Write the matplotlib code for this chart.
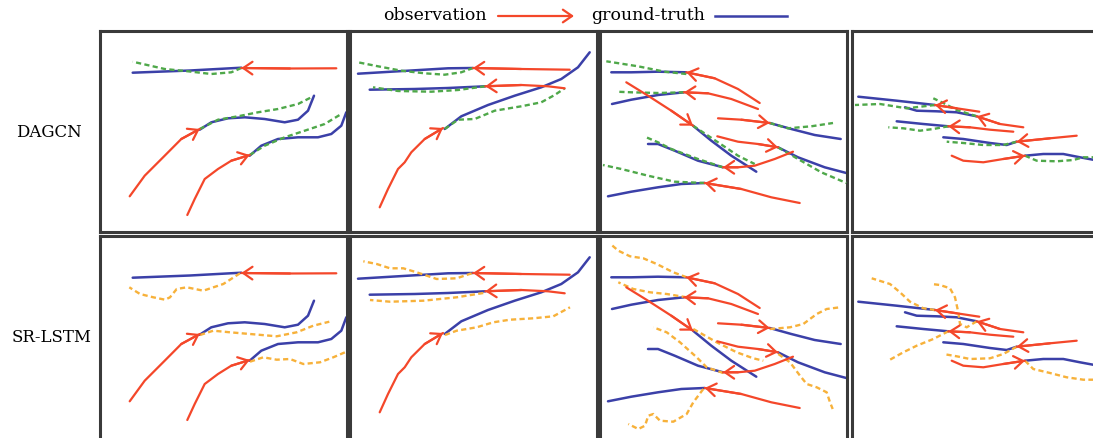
import matplotlib.pyplot as plt

# 图像尺寸 (px)
W, H = 1093, 439

# 每个子图内的轨迹坐标 (子图左上角为原点, 单位 px)
# 面板1
p1_obs = [
    [(236.3, 37.3), (190, 37.5), (141.3, 37)],
    [(29.7, 165.3), (44.7, 144.7), (64.7, 124.7), (81.3, 108), (99.7, 98)],
    [(87.3, 184), (94.7, 168), (104.7, 148), (118, 138), (131.3, 129.7), (149.7, 124)],
]
p1_gt = [
    [(141.3, 36.7), (90, 39.5), (32.7, 41.7)],
    [(99.7, 98.7), (111.3, 91.3), (128, 87.3), (144.7, 86.3), (164.7, 88), (184.7, 91.3),
     (198, 88.7), (208, 79.7), (214, 64.7)],
    [(149.7, 124.7), (161.3, 114.7), (178, 108), (198, 106.3), (218, 106.3), (231.3, 103),
     (241.3, 94.7), (246.3, 81.3)],
]
p1_dagcn = [
    [(141.3, 37), (131.3, 41.3), (111.3, 43), (88, 40.3), (64.7, 38), (32.7, 30.7)],
    [(99.7, 98), (118, 88.7), (138, 85.3), (158, 81.3), (178, 78), (198, 73), (211.3, 66.3)],
    [(149.7, 124), (164.7, 114.7), (184.7, 106.3), (204.7, 99.7), (224.7, 93), (241.3, 83)],
]
p1_srlstm = [
    [(140, 37.3), (123.3, 48), (103.3, 54.7), (86.7, 51.3), (76.7, 53), (70, 61.3), (65, 63.7),
     (53.3, 61.3), (40, 58), (29.3, 51.3)],
    [(100, 99), (113.3, 94.7), (130, 96.3), (150, 98), (176.7, 100.3), (196.7, 96.3),
     (213.3, 89.7), (229.3, 85.7)],
    [(150, 125.7), (163.3, 121.3), (176.7, 123.7), (190, 123), (203.3, 128), (220, 126.3),
     (233.3, 121.3), (245, 116.3)],
]

# 面板2
p2_obs = [
    [(219.7, 38.7), (171.3, 38), (123, 37)],
    [(214.7, 57.3), (198, 55.3), (171.3, 54), (135.3, 55.3)],
    [(29.7, 176.3), (38, 158), (48, 138), (54.7, 131.3), (61.3, 121.3), (74.7, 108), (93, 97)],
]
p2_gt = [
    [(123, 37), (98, 37.3), (64.7, 39.3), (31.3, 41.3), (8, 42.7)],
    [(135.3, 55.3), (98, 57), (64.7, 58), (19.7, 58.7)],
    [(94.7, 98), (111.3, 85.3), (138, 74), (164.7, 64.7), (191.3, 56.3), (211.3, 48),
     (228, 36.3), (239.7, 21.3)],
]
p2_dagcn = [
    [(123, 37), (111.3, 41.3), (94.7, 43.7), (74.7, 42.3), (51.3, 39.7), (28, 35.3), (8, 31.3)],
    [(135.3, 55.3), (108, 59), (81.3, 60.7), (48, 60), (23, 56.3)],
    [(94.7, 98), (108, 88.7), (124.7, 88), (144.7, 79.7), (171.3, 75.3), (191.3, 71.3),
     (204.7, 64), (214.7, 57.3)],
]
p2_srlstm = [
    [(121.7, 37.3), (106.7, 42.3), (86.7, 43), (66.7, 36.3), (53.3, 32.3), (40, 32.3),
     (26.7, 28), (13.3, 25.3)],
    [(133.3, 57), (106.7, 61.3), (73.3, 64.7), (40, 65.7), (20, 64)],
    [(95, 99), (106.7, 94.7), (126.7, 91.3), (143.3, 86.3), (160, 83.7), (183.3, 82.3),
     (203.3, 80.3), (220, 71.3)],
]

# 面板3
p3_obs = [
    [(159.7, 72), (138, 58), (114.7, 47.3), (86.3, 41.3)],
    [(158, 78), (131.3, 68), (108, 62.3), (84, 61.3)],
    [(26.3, 51.3), (48, 64.7), (71.3, 79.7), (93, 94.7)],
    [(118, 87.3), (141.3, 88.7), (169.7, 92)],
    [(117.3, 105.3), (138, 110.7), (158, 113), (178, 116.3)],
    [(193, 120.7), (174.7, 128), (154.7, 134.7), (138, 136.3), (123, 136.3)],
    [(199.7, 172), (171.3, 166.3), (141.3, 158), (104.7, 152)],
]
p3_gt = [
    [(86.3, 41.3), (58, 40.7), (31.3, 41.3), (11.3, 41.3)],
    [(84, 61.3), (58, 64), (31.3, 68.7), (12, 73)],
    [(93, 94.7), (111.3, 109.7), (131.3, 124.7), (156.3, 140.7)],
    [(169.7, 92), (191.3, 98), (214.7, 104), (240.7, 108)],
    [(178, 116.3), (198, 126.3), (224.7, 136.3), (246.3, 142)],
    [(123, 136.3), (98, 129.7), (74.7, 119.7), (58, 113), (48, 113)],
    [(104.7, 152), (81.3, 153), (58, 156.3), (31.3, 160.7), (8, 165.3)],
]
p3_dagcn = [
    [(86.3, 43), (64.7, 40.7), (38, 35.3), (6.3, 30.3)],
    [(84, 61.3), (58, 62), (31.3, 61.3), (16.3, 60.7)],
    [(93, 94.7), (118, 111.3), (138, 124.7), (154.7, 133)],
    [(169.7, 92), (188, 97.3), (211.3, 95.3), (233, 92)],
    [(178, 116.3), (198, 128), (221.3, 141.3), (246.3, 152)],
    [(123, 136.3), (98, 128), (71.3, 118), (58, 111.3), (46.3, 106.3)],
    [(104.7, 152), (74.7, 150.7), (48, 144.7), (21.3, 138), (3, 134)],
]
p3_srlstm = [
    [(86.7, 41.3), (73.3, 36.3), (56.7, 28), (43.3, 22.3), (30, 20.3), (18.3, 14.7), (11.7, 9)],
    [(86.7, 61.3), (66.7, 58), (50, 56.3), (33.3, 53), (18.3, 46.3)],
    [(93.3, 93), (116.7, 106.3), (136.7, 116.3), (153.3, 122.3), (163.3, 124.7)],
    [(170, 93), (190, 91.3), (203.3, 88), (216.7, 78), (226.7, 73), (240, 71.3)],
    [(178.3, 118), (190, 126.3), (200, 139.7), (206.7, 148), (216.7, 151.3), (226.7, 156.3),
     (230, 166.3), (232.7, 173)],
    [(123.3, 137), (106.7, 131.3), (96.7, 121.3), (80, 106.3), (66.7, 96.3), (53.3, 91.3)],
    [(103.3, 153), (93.3, 166.3), (86.7, 178), (73.3, 185.7), (60, 184.7), (53.3, 178),
     (48.3, 179.7), (45, 189.7), (38.3, 193), (28.3, 188)],
]

# 面板4
p4_obs = [
    [(127.3, 80.7), (104.7, 77.3), (83, 74)],
    [(171.3, 96.3), (148, 93), (124.7, 85.3)],
    [(161.3, 100.7), (138, 98.7), (118, 96.3), (96.3, 95.3)],
    [(224.7, 104.7), (198, 107.3), (164.7, 110.7)],
    [(99.7, 124.7), (111.3, 129.7), (131.3, 131.3), (151.3, 128), (173, 124.7)],
]
p4_gt = [
    [(83, 74), (44.7, 69.7), (6.3, 65.7)],
    [(124.7, 85.3), (104.7, 81.3), (84.7, 80.3), (64.7, 79.7), (53, 76.3)],
    [(96.3, 95.3), (71.3, 93), (44.7, 90.3)],
    [(164.7, 110.7), (154.7, 114), (138, 112), (111.3, 108), (91.3, 106.3)],
    [(173, 124.7), (191.3, 123), (211.3, 123), (228, 126.3), (241, 128.7), (250, 130)],
]
p4_dagcn = [
    [(83, 74), (54.7, 77.3), (28, 73), (3, 74)],
    [(124.7, 85.3), (104.7, 79), (91.3, 72), (81.3, 67.3)],
    [(96.3, 95.3), (81.3, 98), (68, 99.7), (51.3, 97.3), (36.3, 96.3)],
    [(164.7, 110.7), (151.3, 114), (131.3, 114), (111.3, 112), (94.7, 110.7)],
    [(173, 124.7), (184.7, 129.7), (204.7, 130.3), (221.3, 129), (231.3, 126.3), (250, 126.3)],
]
p4_srlstm = [
    [(83, 74), (71.3, 72.3), (58, 65.7), (48, 56.3), (38, 48), (19.7, 42.3)],
    [(124.7, 85.3), (114.7, 91.3), (108, 88), (106.3, 76.3), (103, 61.3), (98, 52.3),
     (88, 49), (79.7, 48)],
    [(96.3, 95.3), (81.3, 103), (64.7, 109.7), (51.3, 116.3), (38, 123.7)],
    [(164.7, 110.7), (151.3, 118), (138, 122.3), (118, 123), (104.7, 120.3), (91.3, 118)],
    [(173, 124.7), (181.3, 133), (198, 137), (214.7, 141.3), (231.3, 143.7), (250, 143.7)],
]

obs_all = [p1_obs, p2_obs, p3_obs, p4_obs]
gt_all = [p1_gt, p2_gt, p3_gt, p4_gt]
pred_rows = [[p1_dagcn, p2_dagcn, p3_dagcn, p4_dagcn],
             [p1_srlstm, p2_srlstm, p3_srlstm, p4_srlstm]]
row_names = ['DAGCN', 'SR-LSTM']

# 颜色
c_obs = '#f4472a'
c_gt = '#3b40a8'
c_pred = ['#4fa84a', '#f7b13a']

# 面板位置 (px)
col_left = [100, 350, 600, 852]
row_top = [32, 237]
row_h = [201, 205]
pw = 247

plt.rcParams['font.family'] = ['DejaVu Serif']
fig = plt.figure(figsize=(W / 100, H / 100), dpi=100)


def arrow_head(ax, pts, color):
    ax.annotate('', xy=pts[-1], xytext=pts[-2],
                arrowprops=dict(arrowstyle='->,head_length=0.55,head_width=0.38',
                                color=color, lw=1.6, mutation_scale=12,
                                shrinkA=0, shrinkB=0))


for r in range(2):
    for c in range(4):
        ax = fig.add_axes([col_left[c] / W, 1 - (row_top[r] + row_h[r]) / H,
                           pw / W, row_h[r] / H])
        ax.set_xlim(0, pw)
        ax.set_ylim(row_h[r], 0)
        ax.set_xticks([])
        ax.set_yticks([])
        for s in ax.spines.values():
            s.set_linewidth(2.2)
            s.set_color('#3a3a3a')
        for tr in gt_all[c]:
            xs, ys = zip(*tr)
            ax.plot(xs, ys, color=c_gt, lw=1.8, solid_capstyle='round', zorder=2)
        for tr in pred_rows[r][c]:
            xs, ys = zip(*tr)
            ax.plot(xs, ys, color=c_pred[r], lw=1.7, ls=(0, (2.2, 1.4)), zorder=3)
        for tr in obs_all[c]:
            xs, ys = zip(*tr)
            ax.plot(xs, ys, color=c_obs, lw=1.6, solid_capstyle='round', zorder=4)
            arrow_head(ax, tr, c_obs)

# 行标签 + 图例 (整图像素坐标)
ov = fig.add_axes([0, 0, 1, 1], zorder=-1)
ov.set_xlim(0, W)
ov.set_ylim(H, 0)
ov.axis('off')
ov.text(49, 133, row_names[0], ha='center', va='center', fontsize=12)
ov.text(52, 338, row_names[1], ha='center', va='center', fontsize=12)

ov.text(435, 16, 'observation', ha='center', va='center', fontsize=12.5)
ov.annotate('', xy=(574, 17), xytext=(498, 17),
            arrowprops=dict(arrowstyle='->,head_length=0.55,head_width=0.38',
                            color=c_obs, lw=1.6, mutation_scale=12, shrinkA=0, shrinkB=0))
ov.text(648, 16, 'ground-truth', ha='center', va='center', fontsize=12.5)
ov.plot([715, 787], [17, 17], color=c_gt, lw=1.8)

fig.savefig('out.png', dpi=100)
